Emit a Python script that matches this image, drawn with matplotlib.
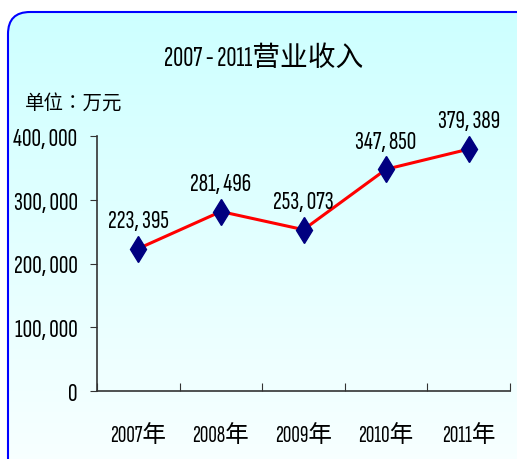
import numpy as np
import matplotlib
matplotlib.use("Agg")
import matplotlib.pyplot as plt
from matplotlib.patches import FancyBboxPatch

# --- data ---
years = ["2007年", "2008年", "2009年", "2010年", "2011年"]
revenue = [223395, 281496, 253073, 347850, 379389]
yticks = [0, 100000, 200000, 300000, 400000]
title = "2007 - 2011营业收入"
unit_label = "单位：万元"

plt.rcParams["font.family"] = ["Sofia Sans Extra Condensed", "Noto Sans CJK SC"]


def fmt(v):
    return "{:,}".format(v).replace(",", ", ")


fig = plt.figure(figsize=(5.17, 4.6), dpi=100)

# background frame with gradient
bg = fig.add_axes([0, 0, 1, 1])
bg.set_xlim(0, 517)
bg.set_ylim(460, 0)
bg.axis("off")
frame = FancyBboxPatch((8, 13), 530, 480, boxstyle="round,pad=0,rounding_size=22",
                       ec="#0000ff", fc="none", lw=1.5, zorder=3)
grad = np.linspace(0, 1, 256).reshape(-1, 1)
top = np.array([0.80, 1.0, 1.0])
bot = np.array([0.97, 1.0, 1.0])
img = top + (bot - top) * grad[..., None]
im = bg.imshow(img, extent=(0, 517, 460, 0), aspect="auto", zorder=1)
bg.add_patch(frame)
im.set_clip_path(frame)

bg.text(264, 58, title, ha="center", va="center", fontsize=20)
bg.text(25, 103, unit_label, ha="left", va="center", fontsize=14,
        family=["Noto Sans CJK TC"])

# plot area
ax = fig.add_axes([97 / 517, (460 - 392) / 460, (510 - 97) / 517, (392 - 137) / 460])
ax.patch.set_alpha(0)
x = np.arange(len(years))
ax.plot(x, revenue, color="#ff0000", lw=2.2, zorder=3)
ax.plot(x, revenue, ls="none", marker="d", ms=13, color="#000080", zorder=4)
for xi, v in zip(x, revenue):
    ax.annotate(fmt(v), (xi, v), xytext=(0, 12), textcoords="offset points",
                ha="center", va="bottom", fontsize=19)

ax.set_xlim(-0.5, len(years) - 0.5)
ax.set_ylim(0, 400000)
ax.set_yticks(yticks)
ax.set_yticklabels([fmt(v) for v in yticks], fontsize=19)
ax.set_xticks(np.arange(-0.5, len(years)), labels=[""] * (len(years) + 1))
ax.set_xticks(x, labels=years, minor=True)
ax.tick_params(axis="x", which="major", direction="in", length=6, color="#333333")
ax.tick_params(axis="x", which="minor", length=0, pad=24, labelsize=17)
ax.tick_params(axis="y", direction="out", length=5, pad=9, color="#333333")
for s in ["top", "right"]:
    ax.spines[s].set_visible(False)
for s in ["left", "bottom"]:
    ax.spines[s].set_color("#333333")
    ax.spines[s].set_linewidth(1.2)

fig.savefig("out.png", dpi=100)
